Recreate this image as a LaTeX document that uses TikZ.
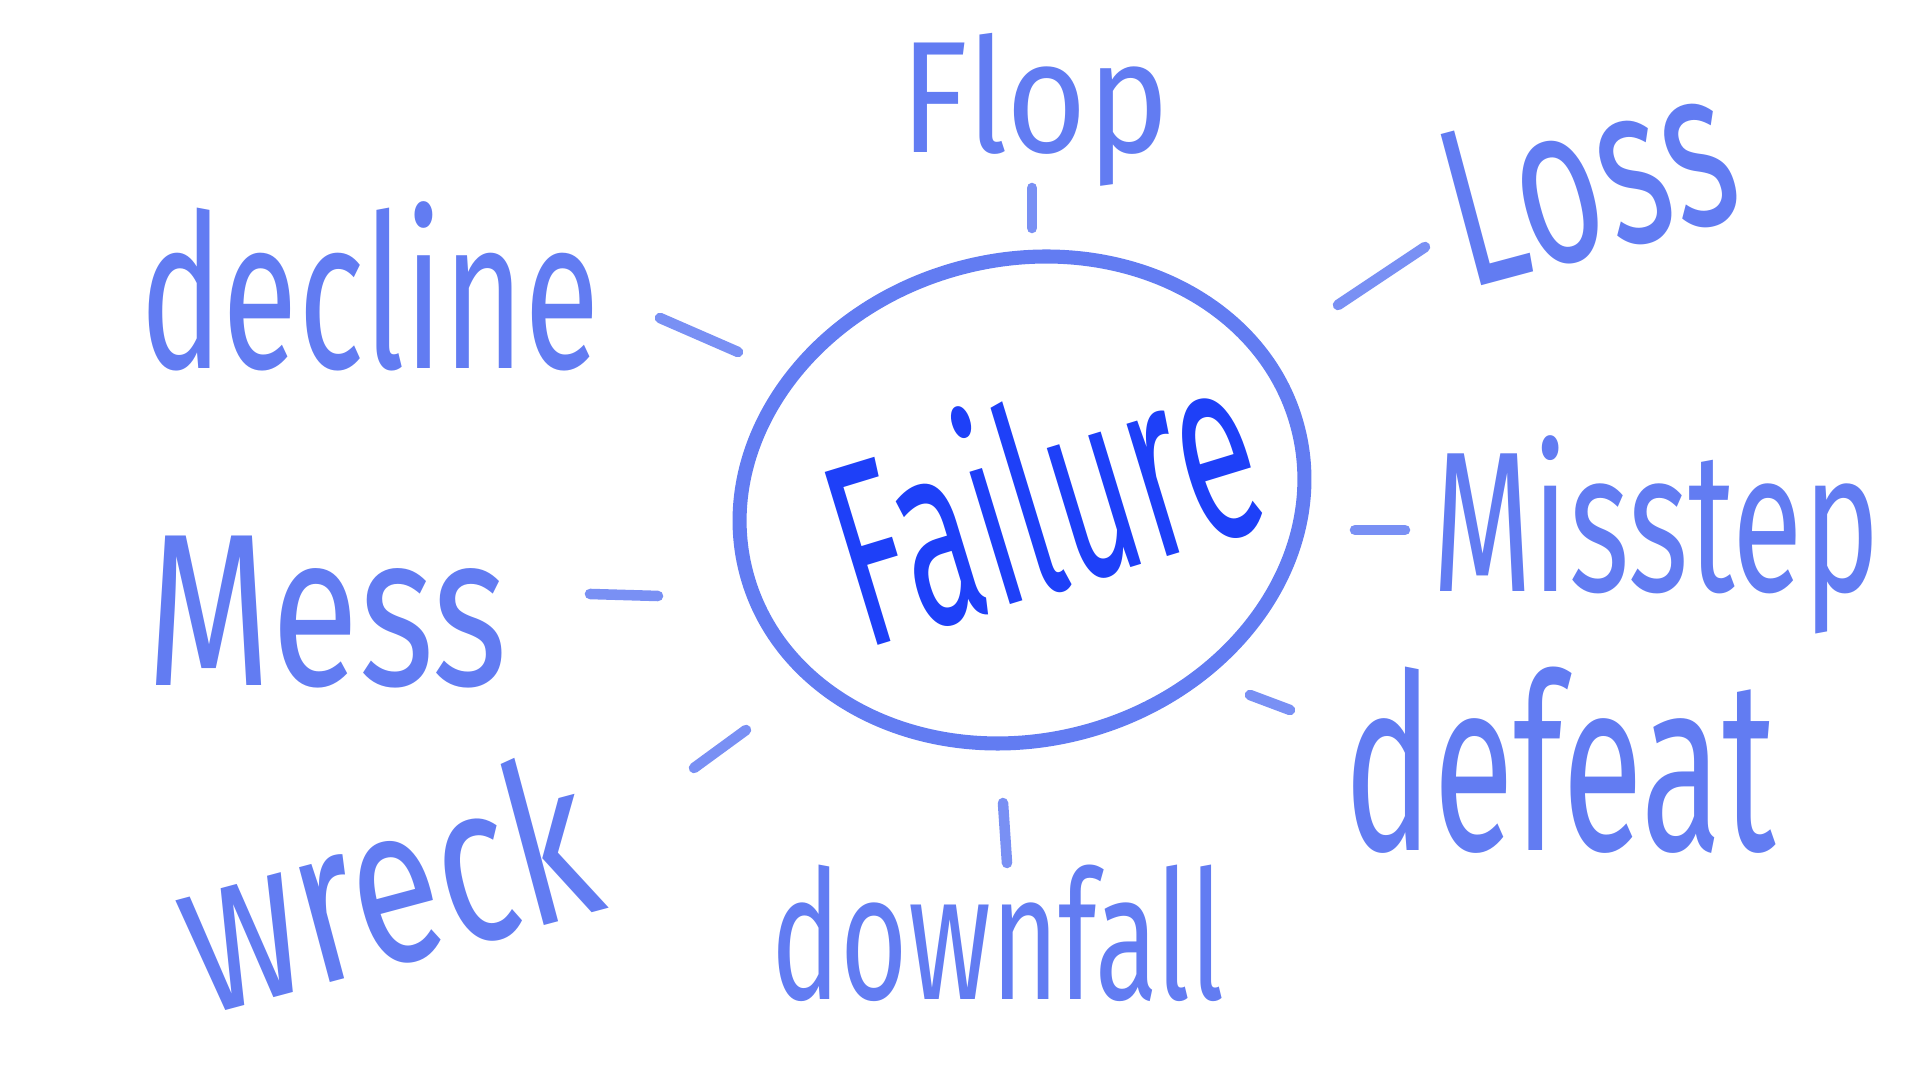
\documentclass[tikz,border=0pt]{standalone}
\usepackage{fontspec}
\setmainfont{Fira Sans}
\usetikzlibrary{shapes}
\definecolor{inkblue}{RGB}{98,124,242}
\definecolor{darkink}{RGB}{30,64,248}
\tikzset{
word/.style={text=inkblue, inner sep=0pt},
stroke/.style={draw=inkblue, line width=3pt, line cap=round, opacity=0.85},
bubble/.style={
	draw=inkblue, line width=4pt, ellipse, minimum width=5.7cm,
	minimum height=4.8cm, inner sep=0pt}
}
\newcommand{\hand}[3][1.55]{\scalebox{1}[#1]{\resizebox{#2}{!}{#3}}}

\begin{document}
\begin{tikzpicture}[x=0.01cm, y=-0.01cm]
	\useasboundingbox (0,0) rectangle (1920,1080);
	\node[bubble, rotate=15] (failure) at (1022,500) {};
	\node[word, text=darkink, rotate=17] (centre) at (1041,490)
		{\hand[1.85]{4.3cm}{Failure}};
	\node[word] (flop) at (1035,110) {\hand[1.15]{2.69cm}{Flop}};
	\node[word, rotate=15] (loss) at (1588,178) {\hand{2.9cm}{Loss}};
	\node[word] (decline) at (370,286) {\hand{4.59cm}{decline}};
	\node[word] (mess) at (327,612) {\hand[1.35]{3.61cm}{Mess}};
	\node[word] (misstep) at (1656,535) {\hand{4.47cm}{Misstep}};
	\node[word, rotate=15] (wreck) at (385,882) {\hand[1.4]{4.2cm}{wreck}};
	\node[word] (downfall) at (998,933) {\hand{4.53cm}{downfall}};
	\node[word] (defeat) at (1560,760) {\hand[1.65]{4.31cm}{defeat}};

	\draw[stroke] (1032,188) -- (1032,228);
	\draw[stroke] (1338,305) -- (1425,247);
	\draw[stroke] (660,318) -- (738,352);
	\draw[stroke] (590,594) -- (658,596);
	\draw[stroke] (1355,530) -- (1405,530);
	\draw[stroke] (694,768) -- (746,730);
	\draw[stroke] (1003,803) -- (1007,863);
	\draw[stroke] (1250,695) -- (1290,710);

\end{tikzpicture}
\end{document}
